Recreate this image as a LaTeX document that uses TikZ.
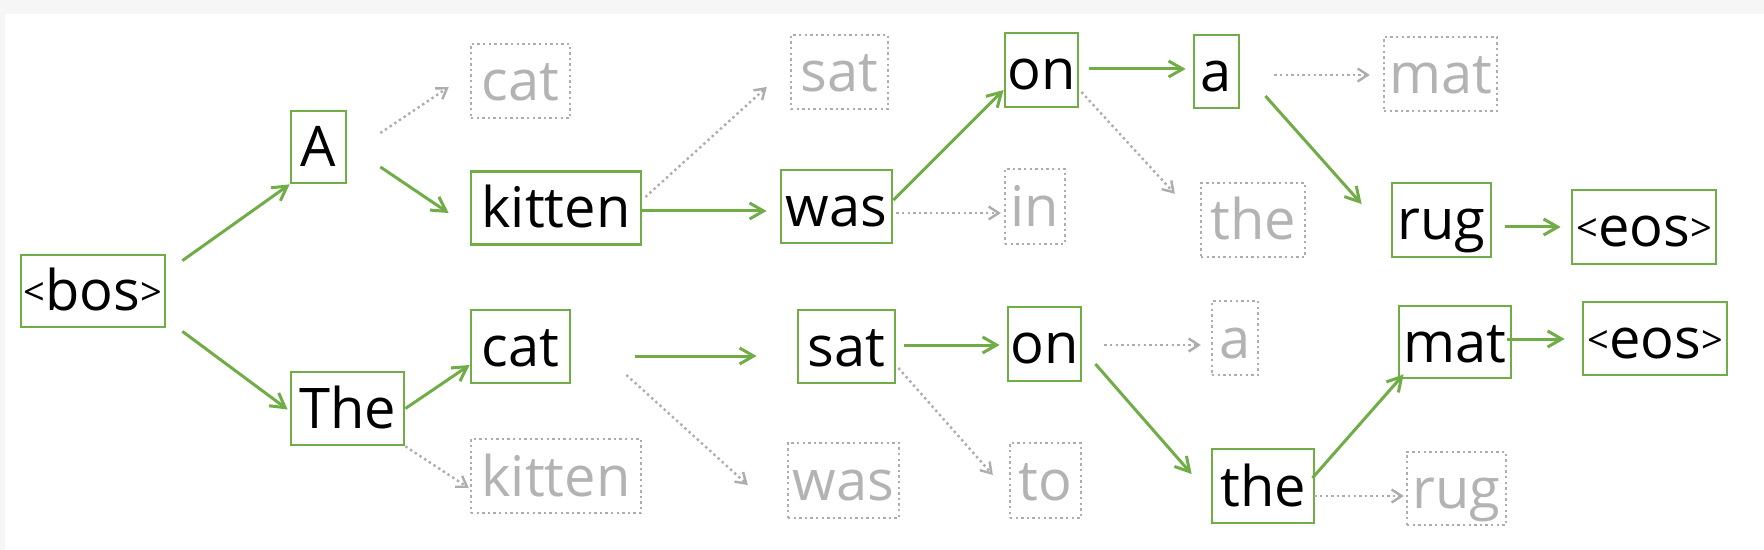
\documentclass[tikz,border=0pt]{standalone}
\usepackage{fontspec}
\setmainfont{Open Sans}
\usetikzlibrary{arrows.meta,calc}
\definecolor{grn}{HTML}{70AD47}
\definecolor{gtext}{HTML}{B3B3B3}
\definecolor{gline}{HTML}{ADADAD}
\definecolor{band}{HTML}{F6F6F6}
\newcommand\lt{\raisebox{2.5pt}{\fontsize{19}{19}\selectfont<}}
\newcommand\gt{\raisebox{2.5pt}{\fontsize{19}{19}\selectfont>}}
\begin{document}
\begin{tikzpicture}[x=0.5pt,y=-0.5pt,
  base/.style={inner sep=0pt,font=\fontsize{28}{32}\selectfont,text height=24pt,text depth=4pt},
  sz/.style 2 args={minimum width=#1*0.5pt,minimum height=#2*0.5pt},
  tok/.style={base,draw=grn,line width=1.4pt,text=black},
  alt/.style={base,draw=gline,line width=1.2pt,dash pattern=on 1.2pt off 1.6pt,text=gtext},
  garr/.style={draw=grn,line width=1.5pt,-{Straight Barb[length=7pt,width=8pt]}},
  darr/.style={draw=gline,line width=1.2pt,dash pattern=on 1.2pt off 1.6pt,-{Straight Barb[length=5pt,width=6.5pt]}}]
\useasboundingbox (0,0) rectangle (1764,550);
\fill[band] (0,0) rectangle (1764,550);
\fill[white] (5,14) rectangle (1764,550);
% nodes
\node[tok,sz={144}{72}] (bos) at (93,291) {\lt bos\gt};
\node[tok,sz={55}{72}] (A) at (318.5,147) {A};
\node[alt,sz={99}{74}] (catA) at (520.5,81) {cat};
\node[tok,sz={170}{73}] (kitten) at (556,208) {kitten};
\node[tok,sz={113}{73}] (The) at (347.5,408.5) {The};
\node[tok,sz={99}{73}] (cat) at (520.5,346.5) {cat};
\node[alt,sz={170}{74}] (kittenT) at (556,476) {kitten};
\node[alt,sz={97}{74}] (satK) at (839.5,72) {sat};
\node[tok,sz={111}{73}] (was) at (836.5,206.5) {was};
\node[tok,sz={73}{74}] (onW) at (1041.5,70) {on};
\node[alt,sz={60}{75}] (inW) at (1035,206.5) {in};
\node[tok,sz={45}{73}] (aO) at (1216.5,71.5) {a};
\node[alt,sz={113}{74}] (matA) at (1440.5,74) {mat};
\node[alt,sz={104}{74}] (theO) at (1253,220) {the};
\node[tok,sz={99}{74}] (rug) at (1441.5,220) {rug};
\node[tok,sz={144}{74}] (eosR) at (1644,227) {\lt eos\gt};
\node[tok,sz={97}{73}] (sat) at (846.5,346.5) {sat};
\node[tok,sz={73}{74}] (onS) at (1044.5,344) {on};
\node[alt,sz={111}{75}] (wasC) at (843.5,480.5) {was};
\node[alt,sz={71}{75}] (toS) at (1045.5,480.5) {to};
\node[alt,sz={46}{74}] (aB) at (1235,338) {a};
\node[tok,sz={112}{72}] (mat) at (1455,342) {mat};
\node[tok,sz={144}{73}] (eosM) at (1655,338.5) {\lt eos\gt};
\node[tok,sz={102}{74}] (the) at (1263,486) {the};
\node[alt,sz={99}{73}] (rugT) at (1456.5,488.5) {rug};
% connectors
\draw[garr] ($(bos.north east)+(16,7)$) -- (A.south west);
\draw[garr] ($(bos.south east)+(16,3)$) -- ($(The.west)+(-2,1)$);
\draw[darr] ($(A.east)+(33,-14)$) -- ($(catA.west)+(-21,6)$);
\draw[garr] ($(A.east)+(33,20)$) -- ($(kitten.west)+(-21,5)$);
\draw[garr] (The.east) -- ($(cat.west)+(0,18.5)$);
\draw[darr] (The.south east) -- ($(kittenT.west)+(-1,12)$);
\draw[garr] ($(kitten.east)+(0,3)$) -- ($(was.west)+(-13,4.5)$);
\draw[darr] ($(kitten.east)+(3,-11)$) -- ($(satK.west)+(-23,15)$);
\draw[garr] ($(was.east)+(0,-6.5)$) -- ($(onW.west)+(0,20)$);
\draw[darr] ($(was.east)+(3,6.5)$) -- ($(inW.west)+(-3,6.5)$);
\draw[garr] ($(onW.east)+(10,-1)$) -- ($(aO.west)+(-7,-2.5)$);
\draw[darr] ($(onW.east)+(2,22)$) -- ($(theO.north west)+(-25,12)$);
\draw[darr] ($(aO.east)+(34,3.5)$) -- ($(matA.west)+(-13,1)$);
\draw[garr] ($(aO.east)+(25,24.5)$) -- ($(rug.west)+(-29,-16)$);
\draw[garr] ($(rug.east)+(13,7)$) -- ($(eosR.west)+(-10,0)$);
\draw[garr] ($(cat.east)+(64,9.5)$) -- ($(sat.west)+(-40,9.5)$);
\draw[darr] ($(cat.east)+(55,28.5)$) -- ($(wasC.west)+(-39,4.5)$);
\draw[garr] ($(sat.east)+(8,-1.5)$) -- ($(onS.west)+(-7,1)$);
\draw[darr] ($(sat.east)+(2,21.5)$) -- ($(toS.west)+(-16,-5.5)$);
\draw[darr] ($(onS.east)+(22,1)$) -- ($(aB.west)+(-10,7)$);
\draw[garr] ($(onS.east)+(13,20)$) -- ($(the.west)+(-19,-12)$);
\draw[garr] ($(the.east)+(-3,-8)$) -- ($(mat.south west)+(6,-5)$);
\draw[darr] ($(the.east)+(-1,10)$) -- ($(rugT.west)+(-2,7.5)$);
\draw[garr] ($(mat.east)+(-5,-3)$) -- ($(eosM.west)+(-17,0.5)$);
\end{tikzpicture}
\end{document}
